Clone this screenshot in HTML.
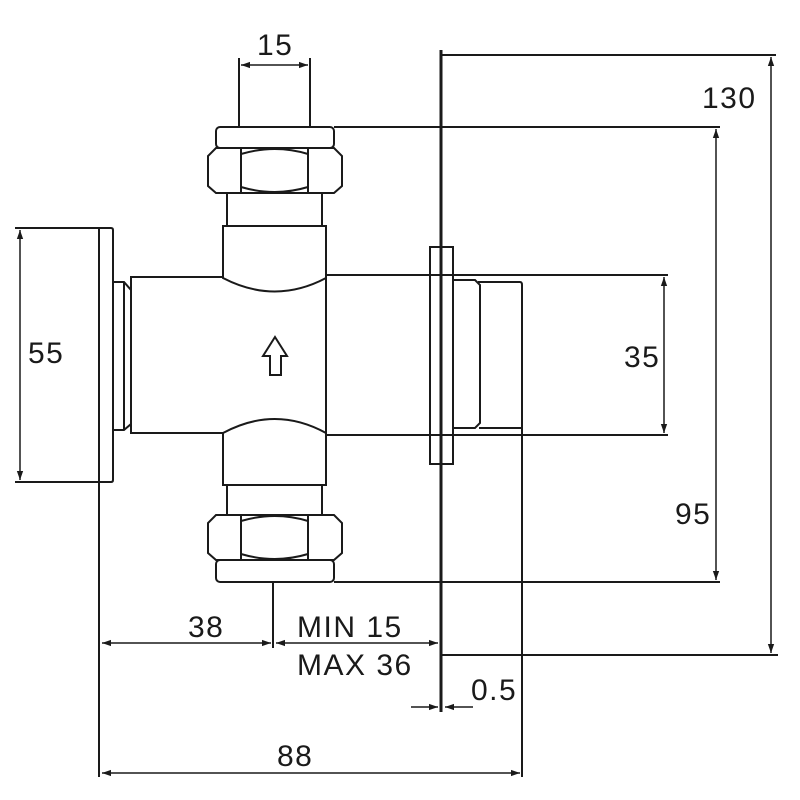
<!DOCTYPE html>
<html><head><style>body{margin:0;background:#fff}svg{display:block}text{font-family:"Liberation Sans",sans-serif;font-size:30px;letter-spacing:1.5px;fill:#1a1a1a}</style></head><body>
<svg width="800" height="800" viewBox="0 0 800 800" xmlns="http://www.w3.org/2000/svg">
<defs><marker id="a" viewBox="0 0 10 10" refX="10" refY="5" markerWidth="9" markerHeight="9" orient="auto-start-reverse" markerUnits="userSpaceOnUse"><path d="M0,1.5 L10,5 L0,8.5 Z" fill="#1a1a1a"/></marker></defs>
<g fill="none" stroke="#1a1a1a" stroke-width="2">
<line x1="239" y1="58" x2="239" y2="127"/><line x1="310" y1="58" x2="310" y2="127"/>
<line x1="241" y1="65" x2="308" y2="65" marker-start="url(#a)" marker-end="url(#a)" stroke-width="1.5"/>
<rect x="216" y="127" width="118" height="21" rx="4" fill="#fff"/>
<path d="M216,148 H334 L342,156 V186 L334,193 H216 L208,186 V156 Z" fill="#fff"/>
<line x1="241" y1="148" x2="241" y2="193"/><line x1="308" y1="148" x2="308" y2="193"/>
<path d="M241,154 Q275,144 308,154 M241,187 Q275,197 308,187"/>
<rect x="227" y="193" width="95" height="33"/>
<rect x="131" y="277" width="195" height="156"/>
<path d="M223,226 H326 V278 Q275,305 223,278 Z" fill="#fff"/>
<path d="M223,485 H326 V433 Q275,405 223,433 Z" fill="#fff"/>
<rect x="227" y="485" width="95" height="30"/>
<path d="M216,515 H334 L342,523 V553 L334,560 H216 L208,553 V523 Z" fill="#fff"/>
<line x1="241" y1="515" x2="241" y2="560"/><line x1="308" y1="515" x2="308" y2="560"/>
<path d="M241,521 Q275,511 308,521 M241,554 Q275,564 308,554"/>
<rect x="216" y="560" width="118" height="22" rx="4" fill="#fff"/>
<path d="M275,337 L287,356 H281 V375 H270 V356 H263 Z"/>
<path d="M98,228 H111 Q113,228 113,230 V480 Q113,482 111,482 H98"/>
<line x1="99" y1="228" x2="99" y2="777"/>
<path d="M113,282 H124 L131,290 V424 L124,430 H113"/><line x1="124" y1="282" x2="124" y2="430"/>
<line x1="326" y1="275" x2="668" y2="275"/><line x1="326" y1="435" x2="668" y2="435"/>
<rect x="430" y="247" width="23" height="217"/>
<path d="M453,280 H475 L480,285 V423 L475,428 H453"/>
<path d="M478,282 H520 Q522,282 522,285 V426"/>
<line x1="479" y1="428" x2="522" y2="428"/>
<line x1="522" y1="285" x2="522" y2="777"/>
<line x1="441" y1="50" x2="441" y2="712" stroke-width="3"/>
<line x1="442" y1="55" x2="776" y2="55"/><line x1="442" y1="655" x2="778" y2="655"/>
<line x1="334" y1="127" x2="720" y2="127"/><line x1="334" y1="582" x2="720" y2="582"/>
<line x1="15" y1="228" x2="100" y2="228"/><line x1="15" y1="482" x2="100" y2="482"/>
<line x1="273" y1="582" x2="273" y2="648"/>
<line x1="771" y1="57" x2="771" y2="653" marker-start="url(#a)" marker-end="url(#a)" stroke-width="1.5"/>
<line x1="716" y1="129" x2="716" y2="580" marker-start="url(#a)" marker-end="url(#a)" stroke-width="1.5"/>
<line x1="664" y1="277" x2="664" y2="433" marker-start="url(#a)" marker-end="url(#a)" stroke-width="1.5"/>
<line x1="20" y1="230" x2="20" y2="480" marker-start="url(#a)" marker-end="url(#a)" stroke-width="1.5"/>
<line x1="102" y1="643" x2="271" y2="643" marker-start="url(#a)" marker-end="url(#a)" stroke-width="1.5"/>
<line x1="276" y1="643" x2="438" y2="643" marker-start="url(#a)" marker-end="url(#a)" stroke-width="1.5"/>
<line x1="411" y1="707" x2="438" y2="707" marker-end="url(#a)" stroke-width="1.5"/>
<line x1="473" y1="707" x2="445" y2="707" marker-end="url(#a)" stroke-width="1.5"/>
<line x1="102" y1="773" x2="520" y2="773" marker-start="url(#a)" marker-end="url(#a)" stroke-width="1.5"/>
</g>
<text x="257" y="55">15</text>
<text x="702" y="108">130</text>
<text x="28" y="363">55</text>
<text x="624" y="367">35</text>
<text x="675" y="524">95</text>
<text x="188" y="637">38</text>
<text x="297" y="637">MIN 15</text>
<text x="297" y="675">MAX 36</text>
<text x="471" y="700">0.5</text>
<text x="277" y="766">88</text>
</svg>
</body></html>
